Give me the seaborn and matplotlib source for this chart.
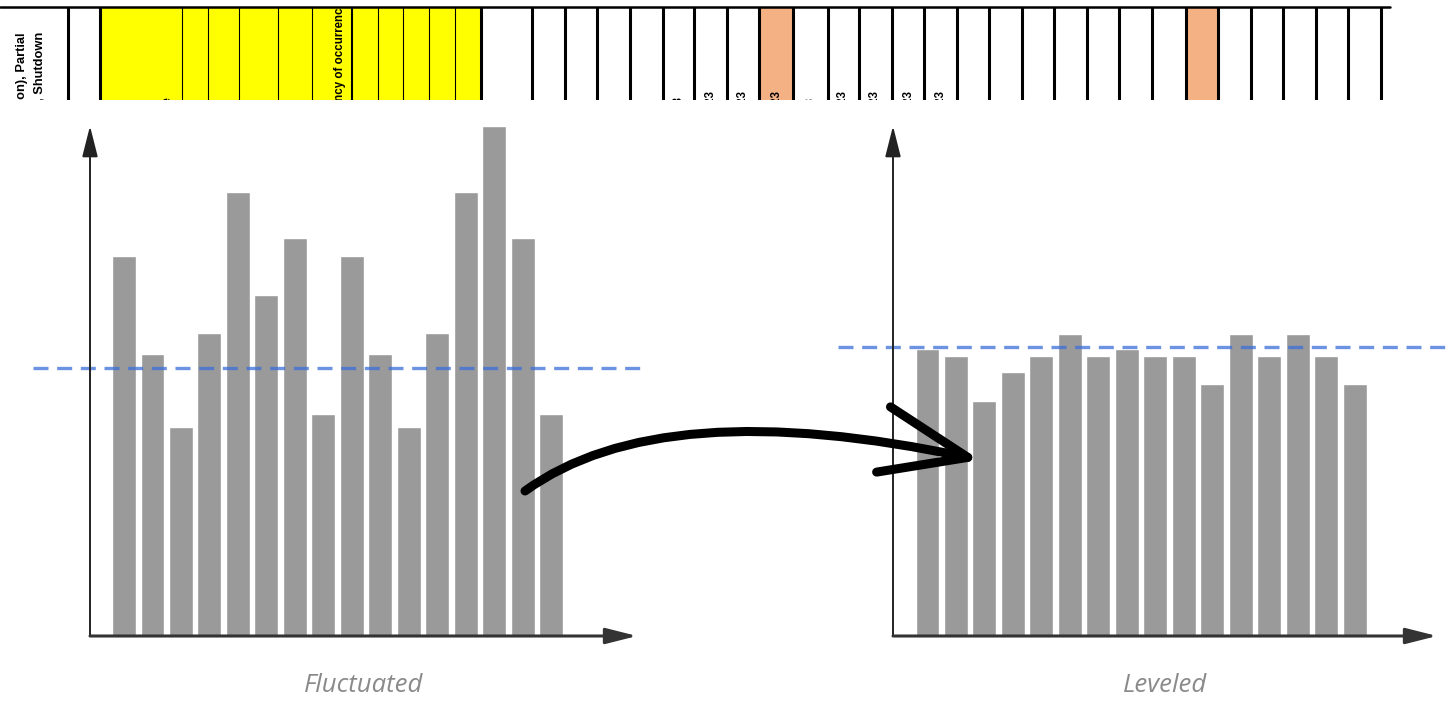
import pandas as pd
import matplotlib
matplotlib.use("Agg")
import matplotlib.pyplot as plt
import seaborn as sns

# bar heights (same units in both panels)
fluctuated = [7.45, 5.53, 4.10, 5.94, 8.71, 6.69, 7.80, 4.35,
              7.45, 5.53, 4.10, 5.94, 8.71, 10.0, 7.80, 4.35]
leveled = [5.63, 5.49, 4.61, 5.18, 5.49, 5.92, 5.49, 5.63,
           5.49, 5.49, 4.94, 5.92, 5.49, 5.92, 5.49, 4.94]
reference_levels = [5.25, 5.67]
panel_titles = ["Fluctuated", "Leveled"]

# cropped spreadsheet header visible above the chart
header_left = ["Running (Full Operation), Partial", "(Partial Operation), Shutdown"]
header_mid = "Frequency of occurrence"
header_cut = "Failure mode"
date_left = "01/03/2023"
date_right = "1/1/2021"

W, H = 1447, 703
BAR = "#9a9a9a"
BLUE = "#3b6fd8"

sns.set_theme(style="white")
plt.rcParams["font.family"] = ["Open Sans", "DejaVu Sans"]
fig = plt.figure(figsize=(W / 100, H / 100), dpi=100)

# ---- spreadsheet strip (pixel coordinates) ----
top = fig.add_axes([0, (H - 100) / H, 1, 93 / H])
top.set_xlim(0, W)
top.set_ylim(100, 7)
top.axis("off")
top.axvspan(100, 481, color="#ffff00", lw=0)
for a, b in [(759, 793), (1186, 1218)]:
    top.axvspan(a, b, color="#f4b183", lw=0)
thick = [68, 100, 481, 532, 565, 597, 630, 663, 694, 727, 759, 793, 828, 859,
         892, 924, 957, 989, 1022, 1054, 1087, 1119, 1152, 1186, 1218, 1251,
         1283, 1316, 1348, 1381]
thin = [182, 208, 239, 278, 312, 378, 403, 429, 455]
for x in thick:
    top.axvline(x, color="black", lw=2.2)
for x in thin:
    top.axvline(x, color="black", lw=0.8)
top.axvline(352, color="black", lw=1.5)
top.plot([0, 1390], [7, 7], color="black", lw=1.8, clip_on=False)

sheet_font = dict(family="Liberation Sans", fontweight="bold",
                  rotation=90, ha="center", va="top", color="black", clip_on=True)
top.text(22, 32, header_left[0], fontsize=9.3, **sheet_font)
top.text(40, 32, header_left[1], fontsize=9.3, **sheet_font)
top.text(340, 1, header_mid, fontsize=8.3, **sheet_font)
top.text(168, 97, header_cut, fontsize=8.3, **sheet_font)
for x, y in [(678, 96), (710, 90), (743, 90), (776, 90), (810, 97),
             (843, 90), (875, 90), (908, 90), (940, 90)]:
    top.text(x, y, date_left, fontsize=8.3, **sheet_font)
for x in [1135, 1169, 1202]:
    top.text(x, 98, date_right, fontsize=8.3, **sheet_font)

# ---- the two bar panels ----
PITCH = 28.47       # px per bar slot
UNIT = 51.0         # px per value unit
base_px = 636
panels = [(90, 637, 124, 33, 645), (893, 1437, 927.5, 838, 1447)]
head = "-|>,head_length=0.95,head_width=0.24"

for vals, level, title, (x0, x1, c0, d0, d1) in zip(
        [fluctuated, leveled], reference_levels, panel_titles, panels):
    ax = fig.add_axes([x0 / W, (H - base_px) / H, (x1 - x0) / W, (base_px - 118) / H])
    df = pd.DataFrame({"slot": range(len(vals)), "value": vals})
    sns.barplot(data=df, x="slot", y="value", color=BAR, saturation=1,
                width=0.84, ax=ax, zorder=2)
    ax.set_xlim(-(c0 - x0) / PITCH, (x1 - c0) / PITCH)
    ax.set_ylim(0, (base_px - 118) / UNIT)
    ax.axis("off")

    # dashed average line, running past the axes
    ax.plot([(d0 - c0) / PITCH, (d1 - c0) / PITCH], [level, level],
            color=BLUE, alpha=0.75, lw=2.4, ls=(0, (4.5, 2.6)),
            clip_on=False, zorder=3)

    # arrowed axes
    ytip = (base_px - 126) / (base_px - 118)
    ax.annotate("", xy=(0, ytip), xytext=(0, 0), xycoords="axes fraction",
                arrowprops=dict(arrowstyle=head, color="#222222", lw=1.4,
                                mutation_scale=20, shrinkA=0, shrinkB=0))
    ax.annotate("", xy=(1, 0), xytext=(0, 0), xycoords="axes fraction",
                arrowprops=dict(arrowstyle=head, color="#333333", lw=2.2,
                                mutation_scale=20, shrinkA=0, shrinkB=0))
    ax.text(0.5, -0.095, title, transform=ax.transAxes, ha="center",
            va="center", fontsize=18.5, style="italic", color="#8a8a8a")

# ---- curved arrow between panels ----
over = fig.add_axes([0, 0, 1, 1], facecolor="none")
over.set_xlim(0, W)
over.set_ylim(H, 0)
over.axis("off")
over.annotate("", xy=(980, 460), xytext=(525, 491),
              arrowprops=dict(arrowstyle="->,head_length=3.1,head_width=1.2",
                              connectionstyle="angle3,angleA=36,angleB=-12",
                              color="black", lw=6.5, mutation_scale=20,
                              capstyle="round", joinstyle="round",
                              shrinkA=0, shrinkB=0))

fig.savefig("out.png", dpi=100)
